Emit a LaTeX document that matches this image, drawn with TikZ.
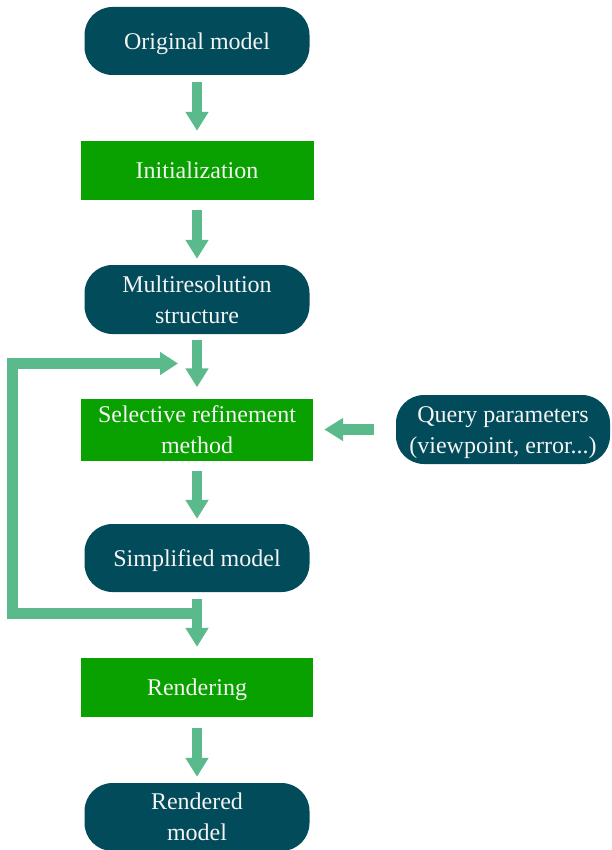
\documentclass[tikz,border=0pt]{standalone}
\usepackage{fontspec}
\setmainfont{Liberation Serif}
\usetikzlibrary{arrows.meta,calc}
\definecolor{teal}{HTML}{024B5A}
\definecolor{boxgreen}{HTML}{08A100}
\definecolor{arrowgreen}{HTML}{5BBA8C}
\definecolor{txt}{HTML}{F4F4F4}
\newcommand{\lbltext}[1]{\raisebox{-2pt}[\height][\depth]{\begin{tabular}{@{}c@{}}#1\end{tabular}}}
\tikzset{
  pill/.style={fill=teal, rounded corners=28pt, minimum width=225pt, minimum height=68pt,
    text=txt, font=\fontsize{24}{31}\selectfont, inner sep=0pt},
  stepbox/.style={fill=boxgreen, minimum width=233pt, minimum height=59pt,
    text=txt, font=\fontsize{24}{31}\selectfont, inner sep=0pt},
  flow/.style={draw=arrowgreen, line width=10.5pt, line join=miter,
    -{Triangle[length=19pt,width=22pt]}},
}
\begin{document}
\begin{tikzpicture}[x=1pt,y=-1pt]
\useasboundingbox (0,0) rectangle (611,850);
\node[pill] (orig) at (197,41) {\lbltext{Original model}};
\node[stepbox] (init) at (197,170.5) {\lbltext{Initialization}};
\node[pill, minimum height=69pt] (multi) at (197,299.5) {\lbltext{Multiresolution\\structure}};
\node[stepbox, minimum width=232pt] (sel) at (197,429.5) {\lbltext{Selective refinement\\method}};
\node[pill, minimum width=214pt, minimum height=69pt] (query) at (503,429.5) {\lbltext{Query parameters\\(viewpoint, error...)}};
\node[pill] (simp) at (197,558) {\lbltext{Simplified model}};
\node[stepbox, minimum width=232pt] (rend) at (197,687.5) {\lbltext{Rendering}};
\node[pill] (rendered) at (197,817) {\lbltext{Rendered\\model}};

\coordinate (fork) at (197,613.5);
\coordinate (fbL) at (12.5,613.5);
\coordinate (fbin) at (178,363.5);

\draw[flow, shorten <=7pt, shorten >=10pt] (orig.south) -- (init.north);
\draw[flow, shorten <=10pt, shorten >=6pt] (init.south) -- (multi.north);
\draw[flow, shorten <=6pt, shorten >=11pt] (multi.south) -- (sel.north);
\draw[flow, shorten <=10pt, shorten >=5pt] (sel.south) -- (simp.north);
\draw[flow, shorten <=7pt, shorten >=11pt] (simp.south) -- (rend.north);
\draw[flow, shorten <=11pt, shorten >=6pt] (rend.south) -- (rendered.north);
\draw[flow, shorten <=22pt, shorten >=11pt] (query.west) -- (sel.east);
\draw[flow, -{Triangle[length=18pt,width=22pt]}] (fork) -- (fbL) |- (fbin);
\end{tikzpicture}
\end{document}
